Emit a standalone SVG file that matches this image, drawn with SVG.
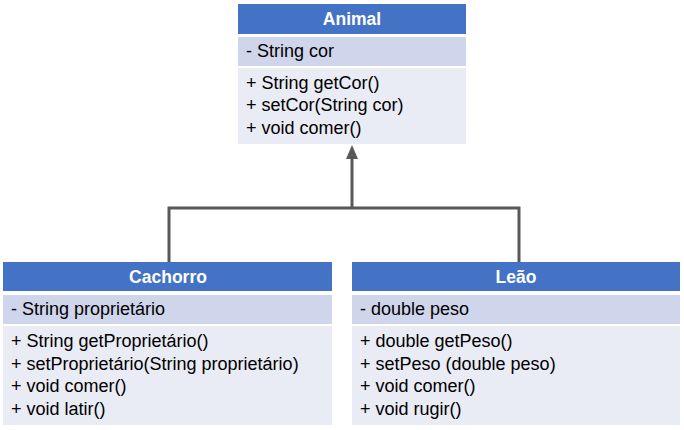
<svg xmlns="http://www.w3.org/2000/svg" width="684" height="430" viewBox="0 0 684 430">
<style>
.hdr{fill:#4472C4}
.att{fill:#CFD5EA}
.mth{fill:#E9EBF5}
.t{font-family:"Liberation Sans",Arial,sans-serif;font-size:18px;fill:#000}
.h{font-family:"Liberation Sans",Arial,sans-serif;font-size:17.5px;font-weight:bold;fill:#fff;text-anchor:middle}
.ln{fill:none;stroke:#595959;stroke-width:3}
</style>
<g id="connectors">
<polyline class="ln" points="169,262 169,208 519,208 519,262"/>
<line class="ln" x1="352" y1="208" x2="352" y2="158"/>
<path d="M346,159 L352,145 L358,159 Z" fill="#595959"/>
</g>
<g id="animal">
<rect class="hdr" x="238" y="4" width="228" height="30"/>
<rect class="att" x="238" y="37" width="228" height="29"/>
<rect class="mth" x="238" y="68" width="228" height="76"/>
<text class="h" x="352" y="25">Animal</text>
<text class="t" x="246" y="57">- String cor</text>
<text class="t" x="246" y="89">+ String getCor()</text>
<text class="t" x="246" y="111">+ setCor(String cor)</text>
<text class="t" x="246" y="134">+ void comer()</text>
</g>
<g id="cachorro">
<rect class="hdr" x="3" y="262" width="329" height="29"/>
<rect class="att" x="3" y="295" width="329" height="29"/>
<rect class="mth" x="3" y="326" width="329" height="99"/>
<text class="h" x="168" y="283">Cachorro</text>
<text class="t" x="11" y="315">- String proprietário</text>
<text class="t" x="11" y="347">+ String getProprietário()</text>
<text class="t" x="11" y="370">+ setProprietário(String proprietário)</text>
<text class="t" x="11" y="392">+ void comer()</text>
<text class="t" x="11" y="415">+ void latir()</text>
</g>
<g id="leao">
<rect class="hdr" x="352" y="262" width="328" height="29"/>
<rect class="att" x="352" y="295" width="328" height="29"/>
<rect class="mth" x="352" y="326" width="328" height="99"/>
<text class="h" x="516" y="283">Leão</text>
<text class="t" x="360" y="315">- double peso</text>
<text class="t" x="360" y="347">+ double getPeso()</text>
<text class="t" x="360" y="370">+ setPeso (double peso)</text>
<text class="t" x="360" y="392">+ void comer()</text>
<text class="t" x="360" y="415">+ void rugir()</text>
</g>
</svg>
